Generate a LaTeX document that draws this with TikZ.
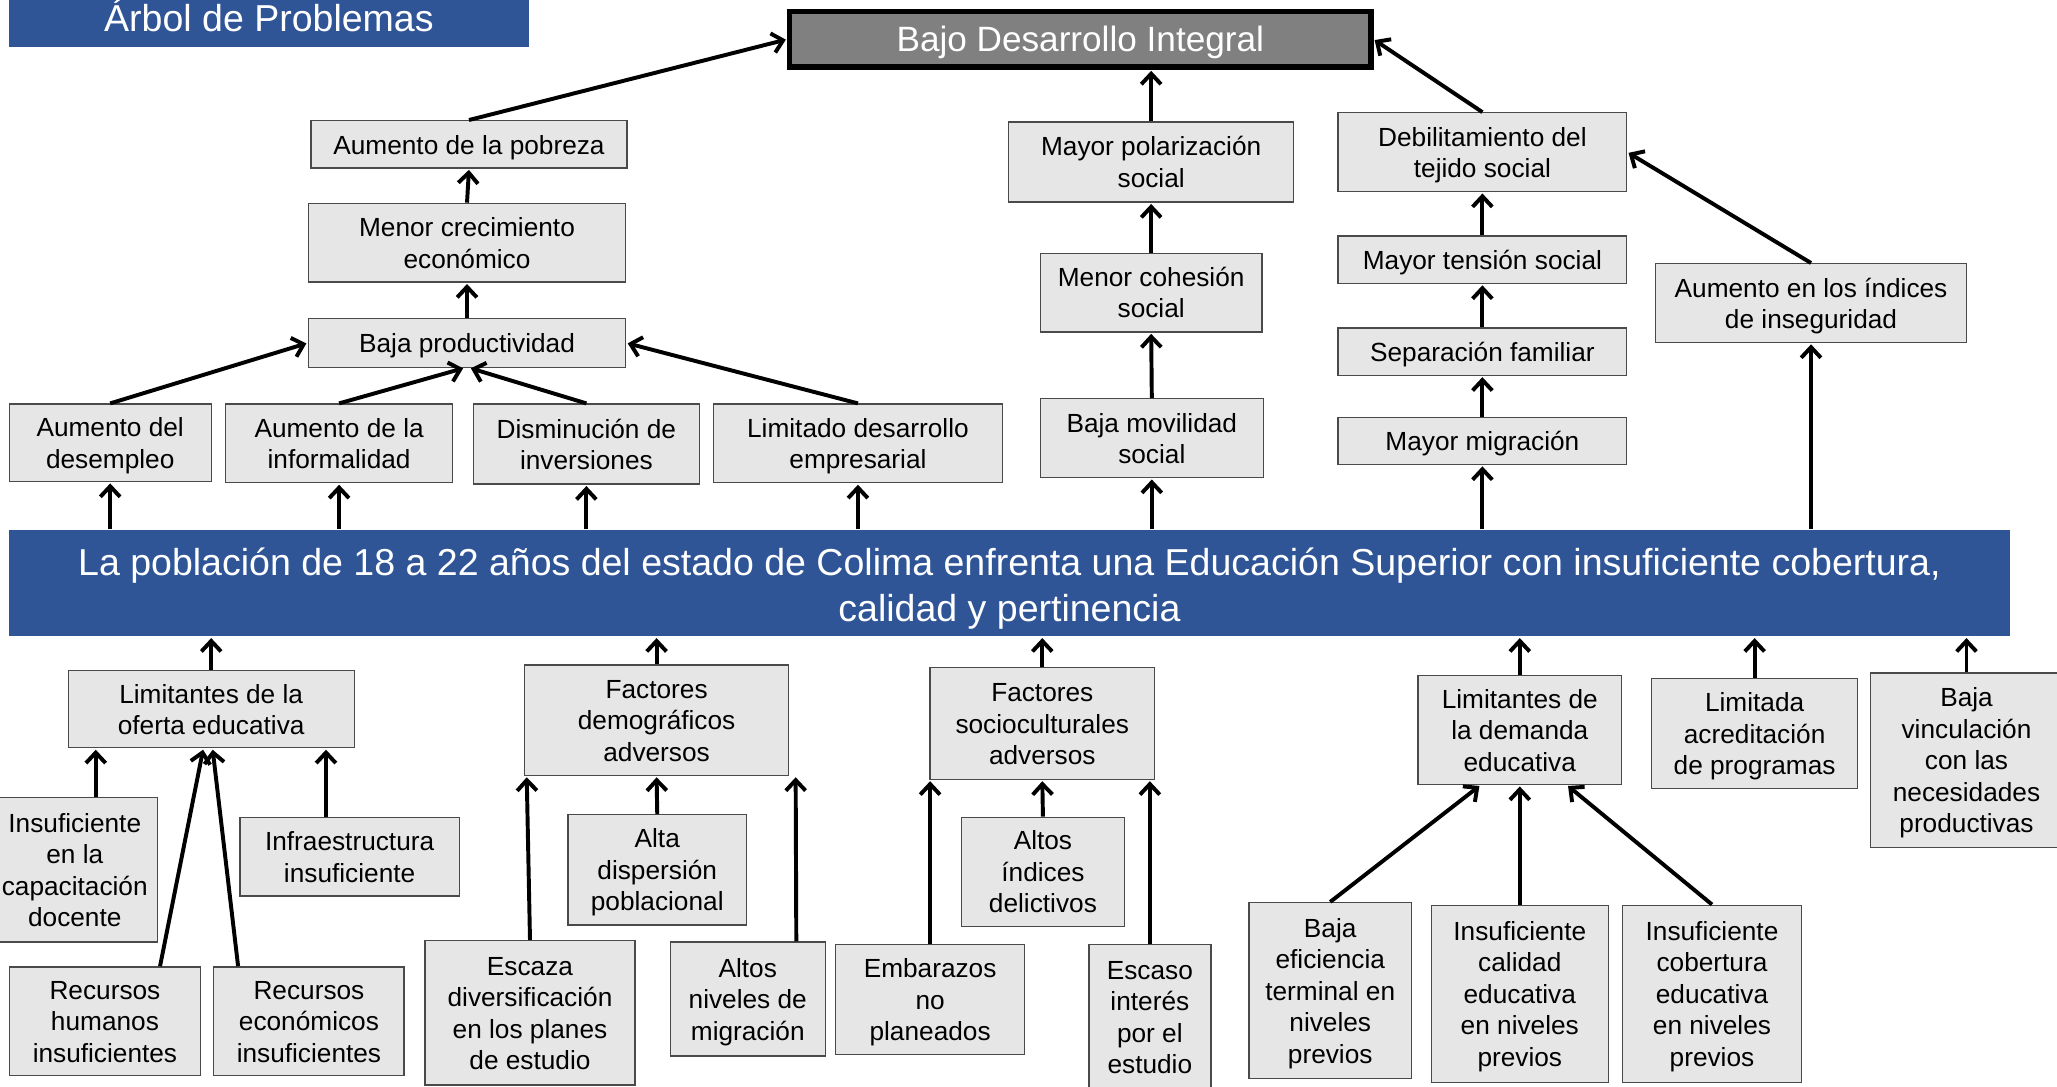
\documentclass[tikz,border=0pt]{standalone}
\usepackage{fontspec}
\setmainfont{Liberation Sans}
\usepackage{array}
\usetikzlibrary{arrows.meta,calc}
\definecolor{boxgray}{HTML}{E7E6E6}
\definecolor{mainblue}{HTML}{2F5597}
\definecolor{topgray}{HTML}{808080}
\definecolor{edgegray}{HTML}{4A4A4A}
\newcolumntype{C}{>{\rule[-2.3pt]{0pt}{12pt}}c}
\newcolumntype{M}{>{\rule[-1.5pt]{0pt}{16pt}}c}
\newcommand\tx[1]{{\renewcommand\arraystretch{0}\setlength\tabcolsep{0pt}\begin{tabular}{@{}C@{}}#1\end{tabular}}}
\newcommand\txm[1]{{\renewcommand\arraystretch{0}\setlength\tabcolsep{0pt}\begin{tabular}{@{}M@{}}#1\end{tabular}}}
\tikzset{
  box/.style={draw=edgegray, line width=0.5pt, fill=boxgray, inner sep=1pt,
    font=\fontsize{10}{12}\selectfont, text=black},
  wh/.style 2 args={minimum width=#1, minimum height=#2},
  arr/.style={line width=1.5pt, -{Straight Barb[length=4pt,width=7.5pt]}, shorten >=0.5pt},
  bluebox/.style={fill=mainblue, draw=none, text=white, inner sep=1pt},
}
\begin{document}
\begin{tikzpicture}[x=0.5pt,y=-0.5pt]
\useasboundingbox (0,0) rectangle (1568,828);
% title
\node[bluebox, wh={198pt}{24pt}, font=\fontsize{14.3}{16.5}\selectfont] (T0) at (205,12) {Árbol de Problemas};
\node[draw=black, line width=2pt, fill=topgray, text=white, wh={221.5pt}{21pt}, inner sep=1pt,
  font=\fontsize{13.4}{16}\selectfont] (B0) at (823.5,30) {\rule[-3.5pt]{0pt}{16pt}Bajo Desarrollo Integral};
% effects
\node[box, wh={120.5pt}{18pt}] (E1) at (357.5,110) {\tx{Aumento de la pobreza}};
\node[box, wh={121pt}{30pt}] (E2) at (356,185) {\tx{Menor crecimiento\\económico}};
\node[box, wh={121pt}{18.5pt}] (E3) at (356,261.5) {\tx{Baja productividad}};
\node[box, wh={77pt}{29.5pt}] (E4) at (84,337.5) {\tx{Aumento del\\desempleo}};
\node[box, wh={86.5pt}{30pt}] (E5) at (258.5,338) {\tx{Aumento de la\\informalidad}};
\node[box, wh={86pt}{30.5pt}] (E6) at (447,338.5) {\tx{Disminución de\\inversiones}};
\node[box, wh={110pt}{30pt}] (E7) at (654,338) {\tx{Limitado desarrollo\\empresarial}};
\node[box, wh={108.5pt}{30.5pt}] (M1) at (877.5,123.5) {\tx{Mayor polarización\\social}};
\node[box, wh={84.5pt}{30pt}] (M2) at (877.5,223) {\tx{Menor cohesión\\social}};
\node[box, wh={85pt}{30pt}] (M3) at (878,334) {\tx{Baja movilidad\\social}};
\node[box, wh={110pt}{30pt}] (R1) at (1130,116) {\tx{Debilitamiento del\\tejido social}};
\node[box, wh={110pt}{18pt}] (R2) at (1130,198) {\tx{Mayor tensión social}};
\node[box, wh={110pt}{18pt}] (R3) at (1130,268) {\tx{Separación familiar}};
\node[box, wh={110pt}{18pt}] (R4) at (1130,336) {\tx{Mayor migración}};
\node[box, wh={118.5pt}{30pt}] (R5) at (1380.5,231) {\tx{Aumento en los índices\\de inseguridad}};
% main problem
\node[bluebox, wh={762.5pt}{40.5pt}, font=\fontsize{14.3}{16.5}\selectfont] (Main) at (769.5,444.5)
 {\txm{La población de 18 a 22 años del estado de Colima enfrenta una Educación Superior con insuficiente cobertura,\\calidad y pertinencia}};
% causes
\node[box, wh={109pt}{29.5pt}] (C1) at (161,540.5) {\tx{Limitantes de la\\oferta educativa}};
\node[box, wh={63pt}{55pt}] (C1a) at (57,663) {\tx{Insuficiente\\en la\\capacitación\\docente}};
\node[box, wh={73pt}{41.5pt}] (C1b) at (80,778.5) {\tx{Recursos\\humanos\\insuficientes}};
\node[box, wh={72.5pt}{41.5pt}] (C1c) at (235.5,778.5) {\tx{Recursos\\económicos\\insuficientes}};
\node[box, wh={83.5pt}{30pt}] (C1d) at (266.5,653) {\tx{Infraestructura\\insuficiente}};
\node[box, wh={100.5pt}{42pt}] (C2) at (500.5,549) {\tx{Factores\\demográficos\\adversos}};
\node[box, wh={68pt}{42pt}] (C2a) at (501,663) {\tx{Alta\\dispersión\\poblacional}};
\node[box, wh={80pt}{55pt}] (C2b) at (404,772) {\tx{Escaza\\diversificación\\en los planes\\de estudio}};
\node[box, wh={59pt}{43.5pt}] (C2c) at (570,761.5) {\tx{Altos\\niveles de\\migración}};
\node[box, wh={85.5pt}{42.5pt}] (C3) at (794.5,551.5) {\tx{Factores\\socioculturales\\adversos}};
\node[box, wh={62pt}{41.5pt}] (C3a) at (795,664.5) {\tx{Altos\\índices\\delictivos}};
\node[box, wh={72pt}{42pt}] (C3b) at (709,762) {\tx{Embarazos\\no\\planeados}};
\node[box, wh={46.5pt}{55pt}] (C3c) at (876.5,775) {\tx{Escaso\\interés\\por el\\estudio}};
\node[box, wh={77.5pt}{41.5pt}] (C4) at (1158.5,556.5) {\tx{Limitantes de\\la demanda\\educativa}};
\node[box, wh={62pt}{67pt}] (C4a) at (1014,755) {\tx{Baja\\eficiencia\\terminal en\\niveles\\previos}};
\node[box, wh={67.5pt}{67.5pt}] (C4b) at (1158.5,757.5) {\tx{Insuficiente\\calidad\\educativa\\en niveles\\previos}};
\node[box, wh={68pt}{67.5pt}] (C4c) at (1305,757.5) {\tx{Insuficiente\\cobertura\\educativa\\en niveles\\previos}};
\node[box, wh={78.5pt}{42pt}] (C5) at (1337.5,559) {\tx{Limitada\\acreditación\\de programas}};
\node[box, wh={73pt}{66.5pt}] (C6) at (1499,579.5) {\tx{Baja\\vinculación\\con las\\necesidades\\productivas}};
% arrows: effects
\draw[arr] (E4.north) -- (E3.west);
\draw[arr] (E5.north) -- ([xshift=-1pt]E3.south);
\draw[arr] (E6.north) -- ([xshift=1pt]E3.south);
\draw[arr] (E7.north) -- (E3.east);
\draw[arr] (E3.north) -- (E2.south);
\draw[arr] (E2.north) -- (E1.south);
\draw[arr] (E1.north) -- (B0.west);
\draw[arr] (M1.north) -- (M1.north |- B0.south);
\draw[arr] (M2.north) -- (M1.south);
\draw[arr] (M3.north) -- (M2.south);
\draw[arr] (R1.north) -- (B0.east);
\draw[arr] (R2.north) -- (R1.south);
\draw[arr] (R3.north) -- (R2.south);
\draw[arr] (R4.north) -- (R3.south);
\draw[arr] (R5.north) -- (R1.east);
\foreach \n in {E4,E5,E6,E7,M3,R4,R5}{
  \draw[arr] (\n.south |- Main.north) -- (\n.south);
}
% arrows: causes
\foreach \n in {C1,C2,C3,C4,C5,C6}{
  \draw[arr] (\n.north) -- (\n.north |- Main.south);
}
\draw[arr] ([xshift=8pt]C1a.north) -- ([xshift=8pt]C1a.north |- C1.south);
\draw[arr] ([xshift=21pt]C1b.north) -- ([xshift=-3pt]C1.south);
\draw[arr] ([xshift=-27pt]C1c.north) -- ([xshift=0.5pt]C1.south);
\draw[arr] ([xshift=-9pt]C1d.north) -- ([xshift=-9pt]C1d.north |- C1.south);
\draw[arr] (C2a.north) -- (C2.south);
\draw[arr] (C2b.north) -- ([xshift=1pt]C2.south west);
\draw[arr] ([xshift=18.5pt]C2c.north) -- ([xshift=2.5pt]C2.south east);
\draw[arr] (C3a.north) -- (C3.south);
\draw[arr] (C3b.north) -- (C3b.north |- C3.south);
\draw[arr] (C3c.north) -- (C3c.north |- C3.south);
\draw[arr] (C4a.north) -- ([xshift=-15pt]C4.south);
\draw[arr] (C4b.north) -- (C4.south);
\draw[arr] (C4c.north) -- ([xshift=18pt]C4.south);
\end{tikzpicture}
\end{document}
